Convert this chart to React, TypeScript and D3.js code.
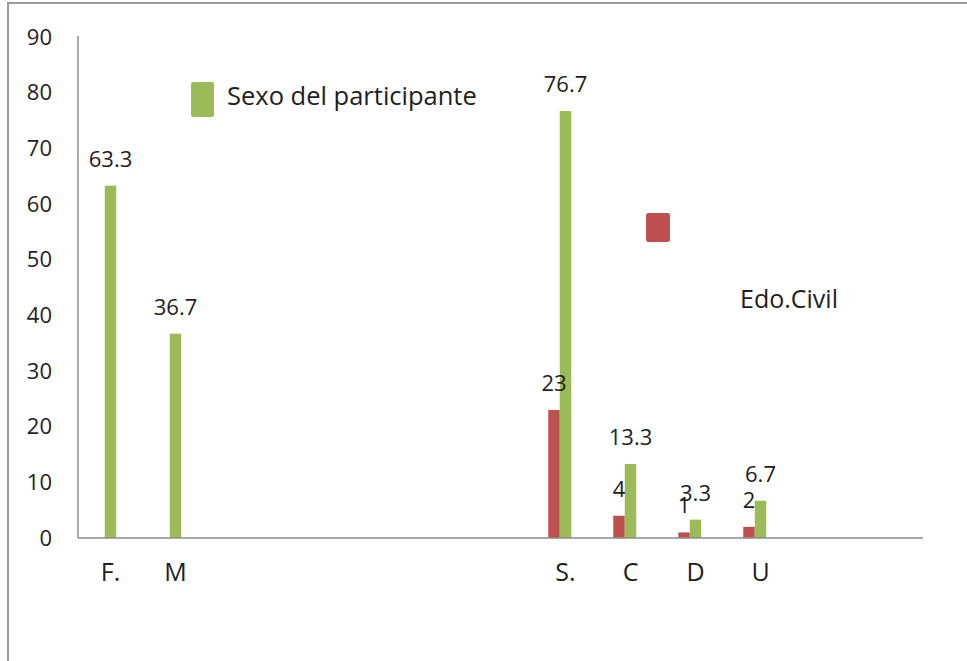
import React from "react";
import * as d3 from "d3";

// Category axis: two sex groups, a run of empty slots, then marital status codes.
const categoryLabels: string[] = ["F.", "M", "", "", "", "", "", "S.", "C", "D", "U", "", ""];

// Percent values per category (null = no bar in that slot).
const sexoValues: (number | null)[] = [63.3, 36.7, null, null, null, null, null, 76.7, 13.3, 3.3, 6.7, null, null];
const edoCivilValues: (number | null)[] = [null, null, null, null, null, null, null, 23, 4, 1, 2, null, null];

const yTicks: number[] = [0, 10, 20, 30, 40, 50, 60, 70, 80, 90];

const seriesNames = ["Edo.Civil", "Sexo del participante", "_spare"];
const seriesColors: Record<string, string> = {
  "Edo.Civil": "#C0504D",
  "Sexo del participante": "#9BBB59",
};

const W = 967;
const H = 661;
const plot = { left: 78, right: 923, top: 37, bottom: 538 };
const FONT = "'Open Sans', 'Noto Sans', sans-serif";
const TEXT = "#1e1e1e";
const AXIS = "#8c8c8c";

export default function App() {
  const idx = categoryLabels.map((_, i) => String(i));
  const x = d3.scaleBand<string>().domain(idx).range([plot.left, plot.right]).padding(0);
  const groupW = x.bandwidth() * 0.53;
  const x1 = d3
    .scaleBand<string>()
    .domain(seriesNames)
    .range([x.bandwidth() / 2 - groupW / 2, x.bandwidth() / 2 + groupW / 2])
    .padding(0);
  const y = d3.scaleLinear().domain([0, 90]).range([plot.bottom, plot.top]);

  const series = [
    { name: "Edo.Civil", values: edoCivilValues },
    { name: "Sexo del participante", values: sexoValues },
  ];

  return (
    <div style={{ position: "fixed", left: 0, top: 0, width: W, height: H, background: "#fff" }}>
      <svg width={W} height={H} style={{ display: "block", fontFamily: FONT }}>
        <rect x={0} y={0} width={W} height={H} fill="#fff" />
        {/* outer chart frame */}
        <path d={`M8,${H + 5} L8,3 L${W + 5},3`} fill="none" stroke="#9a9a9a" strokeWidth={2} />

        {/* y tick labels */}
        {yTicks.map((t) => (
          <text
            key={t}
            x={52}
            y={y(t)}
            dy="0.35em"
            textAnchor="end"
            fontSize={22}
            fill={TEXT}
          >
            {t}
          </text>
        ))}

        {/* bars */}
        {series.map((s) =>
          s.values.map((v, i) =>
            v == null ? null : (
              <rect
                key={s.name + i}
                x={(x(String(i)) as number) + (x1(s.name) as number)}
                y={y(v)}
                width={x1.bandwidth()}
                height={y(0) - y(v)}
                fill={seriesColors[s.name]}
              />
            )
          )
        )}

        {/* axes */}
        <line x1={plot.left} x2={plot.left} y1={plot.top - 1} y2={plot.bottom} stroke={AXIS} strokeWidth={1.5} />
        <line x1={plot.left} x2={plot.right} y1={plot.bottom} y2={plot.bottom} stroke={AXIS} strokeWidth={1.5} />

        {/* value labels */}
        {series.map((s) =>
          s.values.map((v, i) =>
            v == null ? null : (
              <text
                key={"l" + s.name + i}
                x={(x(String(i)) as number) + (x1(s.name) as number) + x1.bandwidth() / 2}
                y={y(v) - 19}
                textAnchor="middle"
                fontSize={22}
                fill={TEXT}
              >
                {String(v)}
              </text>
            )
          )
        )}

        {/* category labels */}
        {categoryLabels.map((c, i) =>
          c ? (
            <text
              key={"c" + i}
              x={(x(String(i)) as number) + x.bandwidth() / 2}
              y={plot.bottom + 43}
              textAnchor="middle"
              fontSize={25}
              fill={TEXT}
            >
              {c}
            </text>
          ) : null
        )}

        {/* legend entries */}
        <rect x={191} y={82} width={23} height={35} rx={2.5} fill={seriesColors["Sexo del participante"]} />
        <text x={227} y={105} fontSize={25.5} fill={TEXT}>
          Sexo del participante
        </text>
        <rect x={646} y={213} width={24} height={29} rx={2.5} fill={seriesColors["Edo.Civil"]} />
        <text x={740} y={308} fontSize={25} fill={TEXT}>
          Edo.Civil
        </text>
      </svg>
    </div>
  );
}
